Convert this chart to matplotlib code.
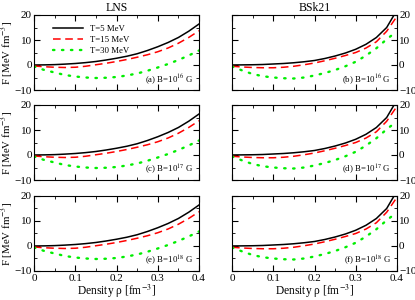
import numpy as np
import matplotlib
matplotlib.use("Agg")
import matplotlib.pyplot as plt
from matplotlib.ticker import MultipleLocator

plt.rcParams['font.family'] = ['Liberation Serif', 'DejaVu Serif']
plt.rcParams['mathtext.fontset'] = 'stix'

# density grid [fm^-3]
rho = [0.0, 0.025, 0.05, 0.075, 0.1, 0.125, 0.15, 0.175, 0.2,
       0.225, 0.25, 0.275, 0.3, 0.325, 0.35, 0.375, 0.4]

# LNS free energy [MeV fm^-3]
lns_t5 = [0.0, 0.05, 0.15, 0.35, 0.6, 0.95, 1.4, 2.0, 2.7,
          3.5, 4.5, 5.8, 7.3, 9.0, 11.0, 13.5, 16.4]
lns_t15 = [-0.4, -0.7, -0.9, -1.0, -0.9, -0.5, 0.1, 0.7, 1.4,
           2.2, 3.1, 4.1, 5.3, 6.8, 8.7, 11.0, 13.7]
lns_t30 = [-0.6, -2.0, -3.0, -4.0, -4.6, -5.0, -5.2, -5.1, -4.8,
           -4.2, -3.4, -2.3, -1.0, 0.4, 2.0, 3.8, 5.8]

# BSk21 free energy [MeV fm^-3]
bsk_t5 = [0.0, 0.05, 0.1, 0.2, 0.4, 0.6, 0.9, 1.3, 1.8,
          2.6, 3.6, 4.8, 6.3, 8.3, 11.0, 15.0, 22.0]
bsk_t15 = [-0.5, -0.8, -1.0, -1.1, -1.1, -0.9, -0.5, 0.1, 0.8,
           1.7, 2.7, 3.8, 5.0, 6.8, 9.3, 13.5, 19.5]
bsk_t30 = [-0.6, -2.2, -3.6, -4.5, -5.0, -5.3, -5.4, -5.0, -4.2,
           -3.2, -2.0, -0.5, 1.3, 3.8, 6.7, 10.3, 13.5]

labels = ['T=5 MeV', 'T=15 MeV', 'T=30 MeV']
panel_tags = [['(a) B=10$^{16}$ G', '(b) B=10$^{16}$ G'],
              ['(c) B=10$^{17}$ G', '(d) B=10$^{17}$ G'],
              ['(e) B=10$^{18}$ G', '(f) B=10$^{18}$ G']]
models = [(lns_t5, lns_t15, lns_t30), (bsk_t5, bsk_t15, bsk_t30)]
titles = ['LNS', 'BSk21']

fig = plt.figure(figsize=(4.15, 3.0), dpi=100)
lefts = [34 / 415, 232 / 415]
bottoms = [0.70, 0.40, 0.0967]
w, h = 165 / 415, 0.25

for r in range(3):
    for c in range(2):
        ax = fig.add_axes([lefts[c], bottoms[r], w, h])
        t5, t15, t30 = models[c]
        ax.plot(rho, t5, color='black', lw=1.1, label=labels[0])
        ax.plot(rho, t15, color='red', lw=1.1, ls=(0, (5, 3)), label=labels[1])
        ax.plot(rho, t30, color='#00ee00', lw=1.7, ls=(0, (0.6, 3.2)),
                dash_capstyle='round', label=labels[2])
        ax.set_xlim(0, 0.4)
        ax.set_ylim(-10, 20)
        ax.xaxis.set_major_locator(MultipleLocator(0.1))
        ax.xaxis.set_minor_locator(MultipleLocator(0.05))
        ax.yaxis.set_major_locator(MultipleLocator(10))
        ax.yaxis.set_minor_locator(MultipleLocator(5))
        ax.tick_params(which='both', direction='in', top=True, right=True,
                       labelsize=8, pad=1.5)
        ax.tick_params(axis='x', which='both', pad=2.2)
        ax.tick_params(which='major', length=4)
        ax.tick_params(which='minor', length=2.5)
        for s in ax.spines.values():
            s.set_linewidth(0.8)
        ax.xaxis.set_major_formatter(plt.FuncFormatter(
            lambda v, p: '0' if abs(v) < 1e-9 else ('%g' % v)))
        if c == 1:
            ax.yaxis.tick_right()
            ax.tick_params(which='both', left=True, right=True)
        else:
            ax.set_ylabel('F [MeV fm$^{-3}$]', fontsize=7.8)
            ax.yaxis.set_label_coords(-0.108, 0.5)
        if r < 2:
            ax.set_xticklabels([])
        else:
            ax.set_xlabel('Density \u03c1 [fm$^{-3}$]', fontsize=8.3, labelpad=0)
        if r == 0:
            ax.set_title(titles[c], fontsize=8.5, pad=3)
        ax.text(0.965, 0.14, panel_tags[r][c], transform=ax.transAxes,
                ha='right', va='center', fontsize=6.3)
        if r == 0 and c == 0:
            ax.legend(loc='upper left', bbox_to_anchor=(0.08, 0.95),
                      frameon=False, fontsize=6.3, handlelength=3.4,
                      labelspacing=0.35, borderpad=0.2)

fig.savefig('out.png', dpi=100)
